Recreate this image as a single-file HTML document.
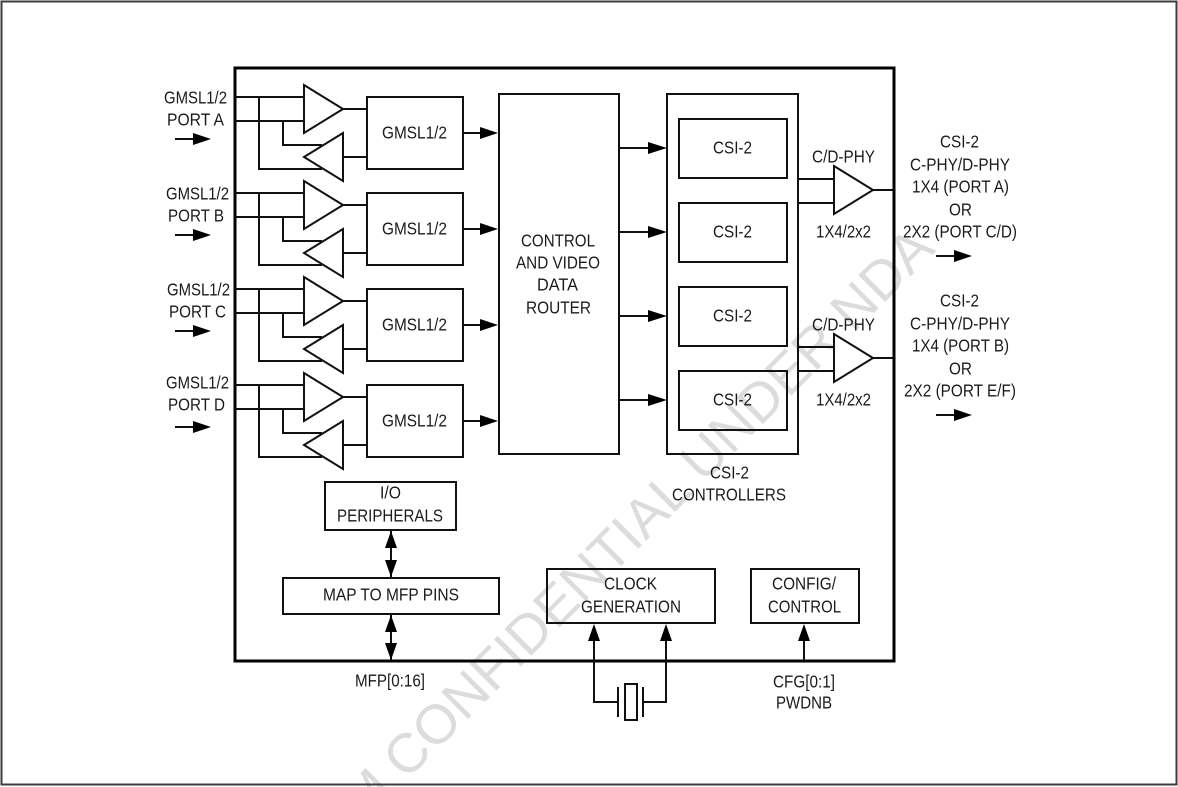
<!DOCTYPE html>
<html><head><meta charset="utf-8"><style>
html,body{margin:0;padding:0;background:#fff;width:1178px;height:787px;overflow:hidden}
#f{width:1178px;height:787px;overflow:hidden;position:relative}
svg{display:block}
text{font-family:"Liberation Sans",sans-serif;font-size:17.5px;fill:#1a1a1a}
.wm{font-size:55px;fill:#dcdcdc}
.l{fill:none;stroke:#111;stroke-width:2}
.t{fill:#fff;stroke:#111;stroke-width:2;stroke-linejoin:miter}
.a{fill:#000;stroke:none}
</style></head><body><div id="f">
<svg xmlns="http://www.w3.org/2000/svg" xmlns:xlink="http://www.w3.org/1999/xlink" width="1178" height="787" viewBox="0 0 1178 787">
<defs>
<clipPath id="pg"><rect width="1178" height="787"/></clipPath>
<g id="rx">
<path class="l" d="M235 97H304M235 121H304M259 97V169H322M283 121V145H322M343 109H367M343 157H367"/>
<path class="t" d="M304 85L343 109L304 133Z"/>
<path class="t" d="M343 133L304 157L343 181Z"/>
<rect class="t" x="367" y="97" width="96" height="72"/>
<path class="l" d="M463 133H482"/><path class="a" d="M480 127L498 133L480 139Z"/>
</g>
<g id="ar"><path class="l" d="M0 0H20"/><path class="a" d="M18 -6L36 0L18 6Z"/></g>
<g id="arw"><path class="l" d="M0 0H30"/><path class="a" d="M29 -6L48 0L29 6Z"/></g>
</defs>
<rect width="1178" height="787" fill="#fff"/>
<g clip-path="url(#pg)">
<g transform="translate(406 781) rotate(-45)">
<text class="wm" x="0" y="0" textLength="750" lengthAdjust="spacingAndGlyphs">CONFIDENTIAL UNDER NDA</text>
<text class="wm" x="-15" y="0" text-anchor="end">M</text>
</g>
</g>
<rect x="1.5" y="1.5" width="1175" height="783" fill="none" stroke="#3c3c3c" stroke-width="2"/>
<rect x="235" y="68" width="659" height="593" fill="none" stroke="#000" stroke-width="3"/>
<use xlink:href="#rx" href="#rx"/>
<use xlink:href="#rx" href="#rx" y="96"/>
<use xlink:href="#rx" href="#rx" y="192"/>
<use xlink:href="#rx" href="#rx" y="288"/>
<rect x="499" y="94" width="120" height="360" fill="none" stroke="#111" stroke-width="2"/>
<rect x="667" y="94" width="131" height="360" fill="none" stroke="#111" stroke-width="2"/>
<rect class="l" x="679" y="119" width="108" height="59"/>
<rect class="l" x="679" y="203" width="108" height="59"/>
<rect class="l" x="679" y="287" width="108" height="59"/>
<rect class="l" x="679" y="371" width="108" height="59"/>
<use xlink:href="#arw" href="#arw" x="619" y="148"/>
<use xlink:href="#arw" href="#arw" x="619" y="232"/>
<use xlink:href="#arw" href="#arw" x="619" y="316"/>
<use xlink:href="#arw" href="#arw" x="619" y="400"/>
<path class="l" d="M798 179H834M798 203H834M873 190H894"/>
<path class="t" d="M834 166L873 190L834 214Z"/>
<path class="l" d="M798 347H834M798 371H834M873 358H894"/>
<path class="t" d="M834 334L873 358L834 382Z"/>
<use xlink:href="#ar" href="#ar" x="175" y="139"/>
<use xlink:href="#ar" href="#ar" x="175" y="235"/>
<use xlink:href="#ar" href="#ar" x="175" y="331"/>
<use xlink:href="#ar" href="#ar" x="175" y="427"/>
<use xlink:href="#ar" href="#ar" x="936" y="256"/>
<use xlink:href="#ar" href="#ar" x="936" y="415"/>
<rect class="l" x="325" y="482" width="131" height="48"/>
<rect class="l" x="283" y="578" width="216" height="36"/>
<rect class="l" x="547" y="569" width="168" height="54"/>
<rect class="l" x="751" y="569" width="108" height="54"/>
<path class="l" d="M391 531V577"/><path class="a" d="M391 531L385 548H397ZM391 577L385 560H397Z"/>
<path class="l" d="M391 615V660"/><path class="a" d="M391 615L385 632H397ZM391 660L385 643H397Z"/>
<path class="l" d="M594 635V702H618M666 635V702H643M618 687V717M643 687V717"/>
<rect class="l" x="625" y="684" width="12" height="36"/>
<path class="a" d="M594 624L588 641H600ZM666 624L660 641H672Z"/>
<path class="l" d="M804 635V661"/><path class="a" d="M804 624L798 641H810Z"/>

<g transform="translate(0 -0.5)">
<text x="164" y="104" textLength="63" lengthAdjust="spacingAndGlyphs">GMSL1/2</text>
<text x="167" y="126" textLength="57" lengthAdjust="spacingAndGlyphs">PORT A</text>
<text x="166" y="200" textLength="63" lengthAdjust="spacingAndGlyphs">GMSL1/2</text>
<text x="168" y="222" textLength="56" lengthAdjust="spacingAndGlyphs">PORT B</text>
<text x="167" y="296" textLength="63" lengthAdjust="spacingAndGlyphs">GMSL1/2</text>
<text x="169" y="318" textLength="57" lengthAdjust="spacingAndGlyphs">PORT C</text>
<text x="166" y="389" textLength="63" lengthAdjust="spacingAndGlyphs">GMSL1/2</text>
<text x="168" y="411" textLength="57" lengthAdjust="spacingAndGlyphs">PORT D</text>
<text x="382" y="139" textLength="65" lengthAdjust="spacingAndGlyphs">GMSL1/2</text>
<text x="382" y="235" textLength="65" lengthAdjust="spacingAndGlyphs">GMSL1/2</text>
<text x="382" y="331" textLength="65" lengthAdjust="spacingAndGlyphs">GMSL1/2</text>
<text x="382" y="427" textLength="65" lengthAdjust="spacingAndGlyphs">GMSL1/2</text>
<text x="521" y="247" textLength="74" lengthAdjust="spacingAndGlyphs">CONTROL</text>
<text x="516" y="269" textLength="84" lengthAdjust="spacingAndGlyphs">AND VIDEO</text>
<text x="537" y="291" textLength="41" lengthAdjust="spacingAndGlyphs">DATA</text>
<text x="526" y="314" textLength="65" lengthAdjust="spacingAndGlyphs">ROUTER</text>
<text x="713" y="154" textLength="39" lengthAdjust="spacingAndGlyphs">CSI-2</text>
<text x="713" y="238" textLength="39" lengthAdjust="spacingAndGlyphs">CSI-2</text>
<text x="713" y="322" textLength="39" lengthAdjust="spacingAndGlyphs">CSI-2</text>
<text x="713" y="406" textLength="39" lengthAdjust="spacingAndGlyphs">CSI-2</text>
<text x="812" y="163" textLength="63" lengthAdjust="spacingAndGlyphs">C/D-PHY</text>
<text x="812" y="331" textLength="63" lengthAdjust="spacingAndGlyphs">C/D-PHY</text>
<text x="816" y="238" textLength="55" lengthAdjust="spacingAndGlyphs">1X4/2x2</text>
<text x="816" y="406" textLength="55" lengthAdjust="spacingAndGlyphs">1X4/2x2</text>
<text x="940" y="148" textLength="39" lengthAdjust="spacingAndGlyphs">CSI-2</text>
<text x="910" y="171" textLength="100" lengthAdjust="spacingAndGlyphs">C-PHY/D-PHY</text>
<text x="912" y="193" textLength="97" lengthAdjust="spacingAndGlyphs">1X4 (PORT A)</text>
<text x="949" y="216" textLength="23" lengthAdjust="spacingAndGlyphs">OR</text>
<text x="903" y="238" textLength="114" lengthAdjust="spacingAndGlyphs">2X2 (PORT C/D)</text>
<text x="940" y="307" textLength="39" lengthAdjust="spacingAndGlyphs">CSI-2</text>
<text x="910" y="330" textLength="100" lengthAdjust="spacingAndGlyphs">C-PHY/D-PHY</text>
<text x="912" y="352" textLength="97" lengthAdjust="spacingAndGlyphs">1X4 (PORT B)</text>
<text x="949" y="375" textLength="23" lengthAdjust="spacingAndGlyphs">OR</text>
<text x="904" y="397" textLength="112" lengthAdjust="spacingAndGlyphs">2X2 (PORT E/F)</text>
<text x="710" y="479" textLength="39" lengthAdjust="spacingAndGlyphs">CSI-2</text>
<text x="672" y="501" textLength="114" lengthAdjust="spacingAndGlyphs">CONTROLLERS</text>
<text x="380" y="499" textLength="21" lengthAdjust="spacingAndGlyphs">I/O</text>
<text x="337" y="522" textLength="106" lengthAdjust="spacingAndGlyphs">PERIPHERALS</text>
<text x="323" y="601" textLength="136" lengthAdjust="spacingAndGlyphs">MAP TO MFP PINS</text>
<text x="604" y="590" textLength="53" lengthAdjust="spacingAndGlyphs">CLOCK</text>
<text x="581" y="613" textLength="100" lengthAdjust="spacingAndGlyphs">GENERATION</text>
<text x="772" y="590" textLength="64" lengthAdjust="spacingAndGlyphs">CONFIG/</text>
<text x="768" y="613" textLength="73" lengthAdjust="spacingAndGlyphs">CONTROL</text>
<text x="355" y="687" textLength="70" lengthAdjust="spacingAndGlyphs">MFP[0:16]</text>
<text x="773" y="688" textLength="62" lengthAdjust="spacingAndGlyphs">CFG[0:1]</text>
<text x="776" y="709" textLength="56" lengthAdjust="spacingAndGlyphs">PWDNB</text>
</g>
</svg>
</div></body></html>
